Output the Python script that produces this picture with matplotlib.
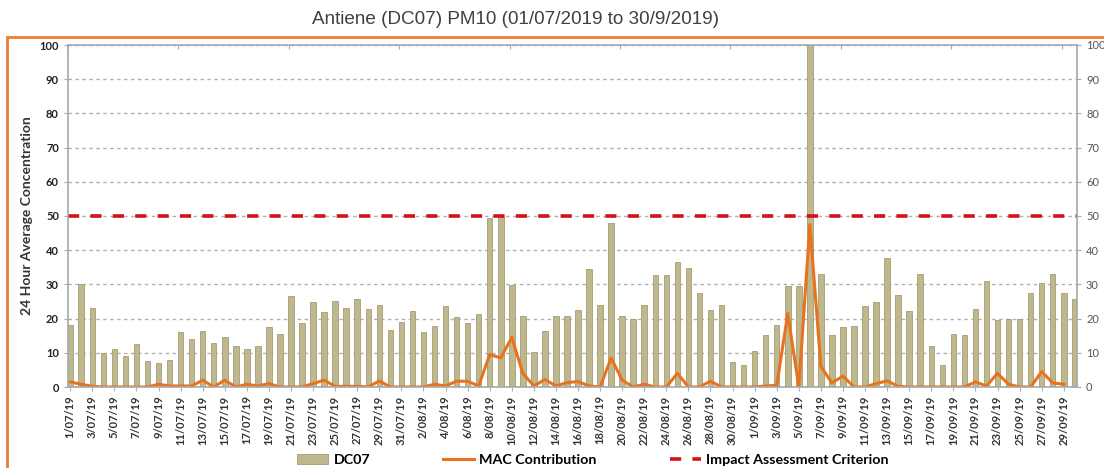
import numpy as np
import pandas as pd
import matplotlib
matplotlib.use("Agg")
import matplotlib.pyplot as plt
from matplotlib.patches import Rectangle

# daily PM10 at DC07, 1 Jul - 30 Sep 2019
dates = pd.date_range("2019-07-01", "2019-09-30", freq="D")
dc07 = [18, 30, 23, 10, 11, 9, 12.7, 7.6, 7, 8, 16.1, 14, 16.4, 13, 14.7, 12, 11, 12.1, 17.4, 15.5,
        26.5, 18.7, 25, 21.8, 25.2, 23.1, 25.6, 22.7, 24,
        16.7, 18.9, 22.1, 16.1, 17.7, 23.7, 20.6, 18.7, 21.4, 49.4, 49.7, 29.9, 20.8, 10.2, 16.4, 20.8,
        20.8, 22.4, 34.6, 23.9, 47.9, 20.8, 19.8, 23.9, 32.7, 32.7, 36.5, 34.9, 27.4, 22.5, 23.9, 7.3, 6.4,
        10.5, 15.2, 18, 29.6, 29.6, 100, 33, 15.2, 17.4, 17.8, 23.7, 24.9, 37.6, 26.8, 22.1, 33, 12, 6.4,
        15.4, 15.2, 22.7, 31.1, 19.6, 19.8, 19.8, 27.4, 30.4, 33, 27.4, 25.6]
mac = [1.5, 0.8, 0.2, 0, 0, 0, 0, 0, 0.8, 0.3, 0.3, 0.3, 2, 0, 2, 0, 0.8, 0.3, 1, 0, 0, 0, 1, 2, 0.2,
       0.2, 0.2, 0, 1.8,
       0, 0, 0, 0, 0.8, 0.3, 1.7, 1.7, 0.3, 9.5, 8.5, 14.5, 4, 0.3, 2.2, 0.3, 1.3, 1.6, 0.3, 0, 8.5,
       2, 0, 0.8, 0, 0, 4, 0, 0, 1.7, 0, 0, 0,
       0, 0.3, 0.5, 21.5, 0, 47.5, 6, 1.2, 3.2, 0, 0, 1, 1.8, 0.2, 0, 0, 0, 0, 0, 0, 1.5, 0.3, 4, 0.8,
       0, 0, 4.5, 1.2, 0.8, np.nan]
criterion = 50

title = "Antiene (DC07) PM10 (01/07/2019 to 30/9/2019)"
tick_labels = [f"{d.day}/{d.month:02d}/{d.year % 100}" for d in dates]

x = np.arange(len(dates))

fig = plt.figure(figsize=(11.04, 4.68), dpi=100)
ax = fig.add_axes([68 / 1104, 1 - 387 / 468, (1077 - 68) / 1104, (387 - 45) / 468])

ax.set_axisbelow(True)
ax.yaxis.grid(True, color="#b0b0b0", linestyle=(0, (2.5, 2.5)), linewidth=1)
bars = ax.bar(x, dc07, width=0.5, color="#bfb78e", edgecolor="#a59d72", linewidth=0.6, label="DC07")
line, = ax.plot(x, mac, color="#e8731e", linewidth=2.2, label="MAC Contribution")
crit = ax.axhline(criterion, color="#d0121b", linewidth=2.6, linestyle=(0, (3.1, 3.1)),
                  label="Impact Assessment Criterion")

ax.set_xlim(-0.2, 91.2)
ax.set_ylim(0, 100)
ax.set_yticks(range(0, 101, 10))
ax.set_xticks(x[::2])
ax.set_xticklabels(tick_labels[::2], rotation=90, fontsize=8, fontweight="bold",
                   family="Lato", color="#333333")
ax.tick_params(axis="x", length=3, color="#9fb3c8", pad=3)
ax.tick_params(axis="y", length=3, color="#a8a8a8", labelsize=8, labelcolor="#222222")
for lab in ax.get_yticklabels():
    lab.set_fontweight("bold")
    lab.set_family("Lato")
ax.set_ylabel("24 Hour Average Concentration", fontsize=10, fontweight="bold",
              family="Lato", color="#333333", labelpad=5)

for side in ["left", "right", "top", "bottom"]:
    ax.spines[side].set_color("#a8a8a8")
    ax.spines[side].set_linewidth(1.2)

# right-hand copy of the axis
ax2 = ax.twinx()
ax2.set_ylim(0, 100)
ax2.set_yticks(range(0, 101, 10))
ax2.tick_params(axis="y", length=3, color="#a8a8a8", labelsize=8, labelcolor="#555555")
for lab in ax2.get_yticklabels():
    lab.set_family("Lato")
for side in ["left", "right", "top", "bottom"]:
    ax2.spines[side].set_visible(False)

# small marks along the top edge
top = ax.secondary_xaxis("top")
top.set_xticks(np.arange(-0.2, 91, 10))
top.set_xticklabels([])
top.tick_params(length=3, direction="in", color="#a8a8a8")
top.spines["top"].set_visible(False)

fig.text(516 / 1104, 1 - 19 / 468, title, ha="center", va="center", fontsize=13.6,
         family="Liberation Sans", color="#404040")

# orange chart frame
fig.patches.append(Rectangle((7 / 1104, -0.1), 1.2, 1 - 37 / 468 + 0.1, transform=fig.transFigure,
                             fill=False, edgecolor="#ed7d31", linewidth=2, clip_on=False))

fig.legend(handles=[bars, line, crit], loc="center", bbox_to_anchor=(0.537, 0.018), ncol=3,
           frameon=False, prop={"family": "Lato", "weight": "bold", "size": 10.3},
           handlelength=2.2, columnspacing=5.1, handletextpad=0.35)

fig.savefig("out.png", dpi=100)
